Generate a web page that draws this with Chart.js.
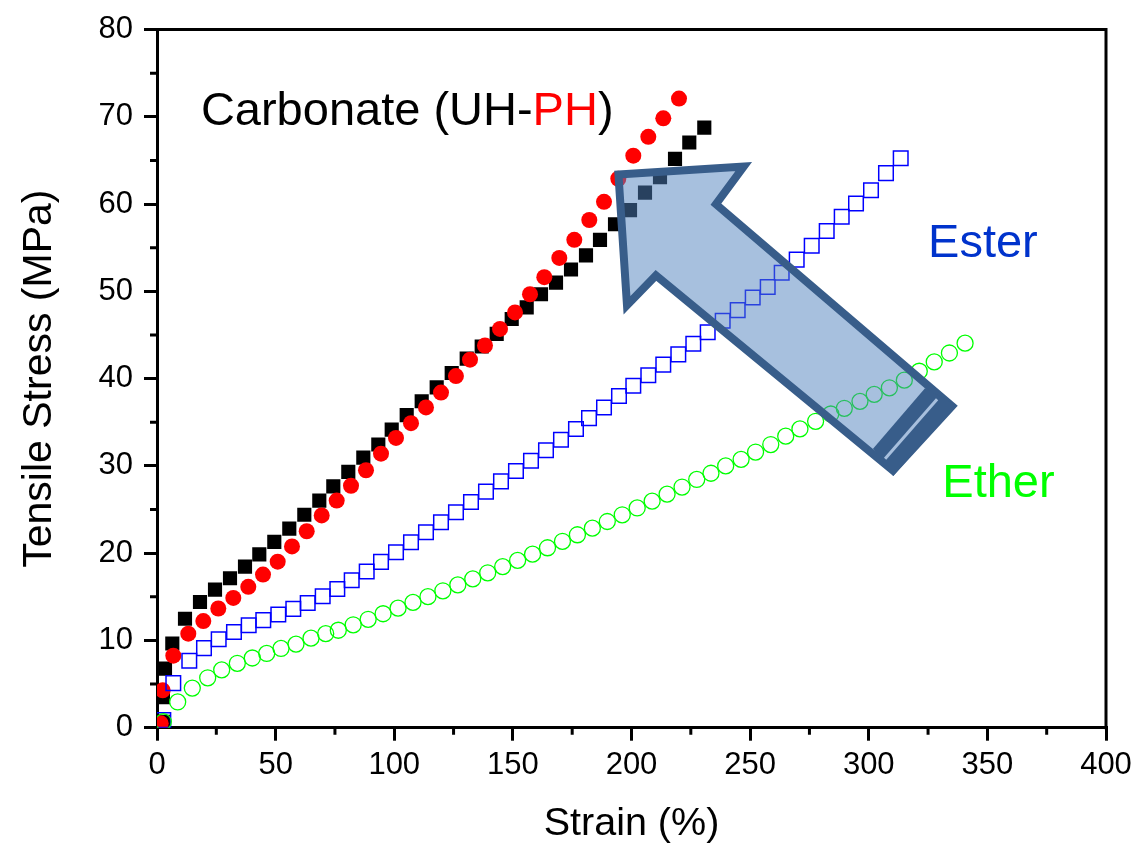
<!DOCTYPE html>
<html>
<head>
<meta charset="utf-8">
<script src="https://cdn.jsdelivr.net/npm/chart.js@4.4.1/dist/chart.umd.min.js"></script>
<style>
  html, body { margin: 0; padding: 0; background: #ffffff; }
  #wrap { width: 1138px; height: 848px; }
</style>
</head>
<body>
<div id="wrap"><canvas id="c" width="1138" height="848"></canvas></div>
<script>
// ---------------- DATA ----------------
const xTicks = [0, 50, 100, 150, 200, 250, 300, 350, 400];
const yTicks = [0, 10, 20, 30, 40, 50, 60, 70, 80];

// Carbonate (UH) – black filled squares
const uhStrain = [2.66,2.5,3.37,6.45,11.80,18.12,24.45,30.77,37.09,43.12,49.44,55.76,62.09,68.41,74.31,80.63,86.96,93.28,98.93,105.25,111.57,117.89,124.22,130.54,136.86,143.18,149.51,155.83,161.85,168.18,174.50,180.82,186.72,193.05,199.37,205.69,212.01,218.34,224.36,230.68];
const uhStress = [0.68,3.49,6.77,9.65,12.48,14.41,15.82,17.13,18.46,19.86,21.30,22.81,24.40,26.03,27.65,29.32,30.95,32.45,34.16,35.82,37.41,39.00,40.65,42.29,43.69,45.13,46.83,48.16,49.67,51.00,52.51,54.13,55.91,57.69,59.31,61.32,63.09,65.18,67.06,68.77];

// Carbonate (PH) – red filled circles
const phStrain = [1.56,2.40,6.87,13.19,19.52,25.84,32.16,38.48,44.68,50.87,56.90,63.10,69.42,75.74,81.77,88.09,94.42,100.74,107.06,113.38,119.70,126.0,131.93,138.25,144.57,150.90,157.22,163.25,169.57,175.89,182.21,188.41,194.44,200.76,207.08,213.40,220.02];
const phStress = [0.50,4.28,8.25,10.78,12.22,13.66,14.87,16.14,17.55,19.03,20.77,22.51,24.33,26.03,27.73,29.50,31.40,33.21,34.9,36.7,38.4,40.3,42.18,43.80,45.70,47.59,49.67,51.63,53.83,55.91,58.18,60.26,62.91,65.55,67.71,69.83,72.10];

// Ester – blue open squares
const esterStrain = [2.66,6.87,13.61,19.81,26.00,32.45,38.65,44.80,51.13,57.45,63.52,69.84,76.00,82.07,88.39,94.42,100.74,107.06,113.38,119.70,126.02,132.35,138.67,144.99,151.31,157.64,163.96,170.28,176.60,182.09,188.41,194.73,200.76,207.08,213.40,219.73,226.05,232.12,238.44,244.76,251.09,257.41,263.31,269.63,275.96,282.28,288.60,294.63,300.95,307.27,313.47];
const esterStress = [0.87,5.11,7.68,9.12,10.14,10.97,11.73,12.33,12.98,13.62,14.30,15.06,15.9,16.9,17.9,19.0,20.1,21.25,22.4,23.55,24.7,25.87,27.05,28.23,29.41,30.6,31.8,33.0,34.23,35.48,36.70,38.01,39.19,40.40,41.61,42.78,43.99,45.32,46.64,47.85,49.29,50.50,52.13,53.64,55.23,56.93,58.55,60.07,61.58,63.55,65.25];

// Ether – green open circles
const etherStrain = [2.66,8.72,14.88,21.37,27.27,33.85,40.17,46.24,52.27,58.59,64.91,71.11,76.42,82.7,89.0,95.3,101.6,107.9,114.2,120.5,126.8,133.1,139.4,145.7,152.0,158.3,164.6,170.9,177.2,183.5,189.8,196.1,202.4,208.7,215.0,221.3,227.5,233.5,239.7,246.2,252.3,258.7,265.0,271.0,277.6,284.0,289.7,296.3,302.3,308.7,315.0,321.3,327.6,334.0,340.6];
const etherStress = [0.68,2.95,4.54,5.72,6.63,7.38,7.99,8.51,9.08,9.58,10.26,10.78,11.17,11.79,12.42,13.06,13.70,14.36,15.02,15.69,16.37,17.06,17.75,18.46,19.17,19.89,20.62,21.36,22.11,22.87,23.63,24.40,25.18,25.97,26.77,27.58,28.45,29.16,30.00,30.75,31.59,32.45,33.41,34.24,35.11,35.95,36.6,37.4,38.2,38.95,39.83,40.85,41.92,42.94,44.07];

// Annotation arrow outline (in data units: strain %, MPa)
const arrowOutline = [[194.5,63.4],[247.3,64.3],[235.6,59.99],[335.1,36.85],[310.2,29.47],[210.3,51.82],[198.1,48.42]];
const arrowBand = [[323.7,38.89],[336.7,37.0],[310.3,28.85],[301.8,31.97]];
const arrowStripe = [[328.8,37.64],[306.9,30.83]];

// Text labels (data units)
const labelCarbonate = { x: 18.5, y: 69.04 };
const labelEster = { x: 325.0, y: 53.9 };
const labelEther = { x: 331.0, y: 26.4 };

// ---------------- CHART ----------------
const FONT = "'Liberation Sans', Arial, Helvetica, sans-serif";
const pts = (xs, ys) => xs.map((x, i) => ({ x: x, y: ys[i] }));

const framePlugin = {
  id: 'frame',
  afterDraw(chart) {
    const { ctx, chartArea: a, scales } = chart;
    const xs = scales.x, ys = scales.y;
    ctx.save();
    // arrow
    const P = p => [xs.getPixelForValue(p[0]), ys.getPixelForValue(p[1])];
    ctx.beginPath();
    arrowOutline.forEach((p, i) => { const q = P(p); i ? ctx.lineTo(q[0], q[1]) : ctx.moveTo(q[0], q[1]); });
    ctx.closePath();
    ctx.fillStyle = 'rgba(79,129,189,0.5)';
    ctx.fill();
    ctx.lineJoin = 'miter';
    ctx.lineWidth = 8;
    ctx.strokeStyle = '#385D8A';
    ctx.stroke();
    ctx.beginPath();
    arrowBand.forEach((p, i) => { const q = P(p); i ? ctx.lineTo(q[0], q[1]) : ctx.moveTo(q[0], q[1]); });
    ctx.closePath();
    ctx.fillStyle = '#385D8A';
    ctx.fill();
    ctx.beginPath();
    let s0 = P(arrowStripe[0]), s1 = P(arrowStripe[1]);
    ctx.moveTo(s0[0], s0[1]); ctx.lineTo(s1[0], s1[1]);
    ctx.strokeStyle = '#A7BFDD';
    ctx.lineWidth = 3;
    ctx.stroke();

    // frame (top / right)
    ctx.strokeStyle = '#000';
    ctx.lineWidth = 3;
    ctx.lineCap = 'square';
    ctx.beginPath();
    ctx.moveTo(a.left, a.top); ctx.lineTo(a.right, a.top); ctx.lineTo(a.right, a.bottom);
    ctx.stroke();
    // minor ticks
    ctx.lineCap = 'butt';
    ctx.beginPath();
    for (let v = 5; v < 80; v += 10) {
      const y = ys.getPixelForValue(v);
      ctx.moveTo(a.left - 7, y); ctx.lineTo(a.left, y);
    }
    for (let v = 25; v < 400; v += 50) {
      const x = xs.getPixelForValue(v);
      ctx.moveTo(x, a.bottom); ctx.lineTo(x, a.bottom + 7);
    }
    ctx.stroke();

    // texts
    ctx.font = '47px ' + FONT;
    ctx.textBaseline = 'alphabetic';
    ctx.textAlign = 'left';
    let x = xs.getPixelForValue(labelCarbonate.x);
    const y = ys.getPixelForValue(labelCarbonate.y);
    const parts = [['Carbonate (UH-', '#000000'], ['PH', '#FF0000'], [')', '#000000']];
    parts.forEach(([t, c]) => { ctx.fillStyle = c; ctx.fillText(t, x, y); x += ctx.measureText(t).width; });
    ctx.fillStyle = '#0033CC';
    ctx.fillText('Ester', xs.getPixelForValue(labelEster.x), ys.getPixelForValue(labelEster.y));
    ctx.fillStyle = '#00FF00';
    ctx.fillText('Ether', xs.getPixelForValue(labelEther.x), ys.getPixelForValue(labelEther.y));
    ctx.restore();
  }
};

new Chart(document.getElementById('c'), {
  type: 'scatter',
  data: {
    datasets: [
      { label: 'Ether', data: pts(etherStrain, etherStress), pointStyle: 'circle', pointRadius: 8,
        pointBackgroundColor: 'rgba(0,0,0,0)', pointBorderColor: '#00FF00', pointBorderWidth: 1.3, showLine: false },
      { label: 'Ester', data: pts(esterStrain, esterStress), pointStyle: 'rect', pointRadius: 10.3,
        pointBackgroundColor: 'rgba(0,0,0,0)', pointBorderColor: '#0000FF', pointBorderWidth: 1.5, showLine: false },
      { label: 'PH', data: pts(phStrain, phStress), pointStyle: 'circle', pointRadius: 8,
        pointBackgroundColor: '#FF0000', pointBorderColor: '#FF0000', pointBorderWidth: 0, showLine: false },
      { label: 'UH', data: pts(uhStrain, uhStress), pointStyle: 'rect', pointRadius: 10,
        pointBackgroundColor: '#000000', pointBorderColor: '#000000', pointBorderWidth: 0, showLine: false }
    ]
  },
  options: {
    responsive: false,
    animation: false,
    layout: { padding: { top: 23, right: 32, left: 0, bottom: 0 } },
    plugins: { legend: { display: false }, tooltip: { enabled: false } },
    scales: {
      x: {
        type: 'linear', min: 0, max: 400,
        afterBuildTicks: s => { s.ticks = xTicks.map(v => ({ value: v })); },
        ticks: { font: { family: FONT, size: 31 }, color: '#000', padding: 6, maxRotation: 0, autoSkip: false },
        grid: { drawOnChartArea: false, tickLength: 13, lineWidth: 3, color: '#000' },
        border: { display: true, width: 3, color: '#000' },
        title: { display: true, text: 'Strain (%)', font: { family: FONT, size: 39.5 }, color: '#000', padding: { top: 0, bottom: 0 } },
        afterFit: s => { s.height = 120.3; }
      },
      y: {
        type: 'linear', min: 0, max: 80,
        afterBuildTicks: s => { s.ticks = yTicks.map(v => ({ value: v })); },
        ticks: { font: { family: FONT, size: 31 }, color: '#000', padding: 11, autoSkip: false },
        grid: { drawOnChartArea: false, tickLength: 13, lineWidth: 3, color: '#000' },
        border: { display: true, width: 3, color: '#000' },
        title: { display: true, text: 'Tensile Stress (MPa)', font: { family: FONT, size: 41 }, color: '#000', padding: { top: 15, bottom: 0 } },
        afterFit: s => { s.width = 157; }
      }
    }
  },
  plugins: [framePlugin]
});
</script>
</body>
</html>
